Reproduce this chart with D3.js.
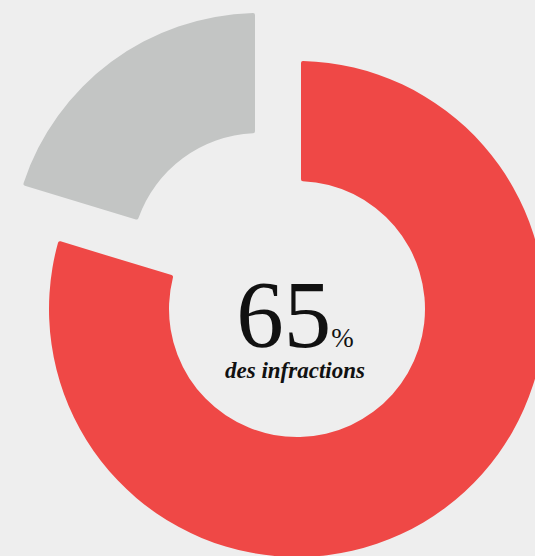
<!DOCTYPE html>
<html>
<head>
<meta charset="utf-8">
<script src="https://cdn.jsdelivr.net/npm/d3@7"></script>
<style>
  html, body { margin: 0; padding: 0; background: #eeeeee; }
  svg { display: block; }
</style>
</head>
<body>
<div id="chart"></div>
<script>
const labels = ["Infractions", "Autres"];
const values = [80, 20];
const colors = ["#ef4846", "#c3c5c4"];
const bigValue = "65";
const bigUnit = "%";
const caption = "des infractions";

const width = 535;
const height = 556;
const cx = 297;
const cy = 309;
const outerR = 248;
const innerR = 128;

// the grey slice is pulled out toward the upper left
const explode = [[0, 0], [-38, -48]];

const svg = d3.select("#chart")
  .append("svg")
    .attr("width", width)
    .attr("height", height)
    .attr("viewBox", [0, 0, width, height]);

const pie = d3.pie().sort(null).padAngle(8 / outerR).value(d => d)(values);

const arc = d3.arc()
  .innerRadius(innerR)
  .outerRadius(outerR)
  .padRadius(outerR)
  .cornerRadius(2);

svg.append("g")
  .selectAll("path")
  .data(pie)
  .join("path")
    .attr("transform", (d, i) => `translate(${cx + explode[i][0]},${cy + explode[i][1]})`)
    .attr("d", arc)
    .attr("fill", (d, i) => colors[i]);

const t = svg.append("text")
  .attr("x", cx - 2)
  .attr("y", cy + 38)
  .attr("text-anchor", "middle")
  .attr("font-family", "Liberation Serif, serif")
  .attr("fill", "#111");
t.append("tspan").attr("font-size", 95).text(bigValue);
t.append("tspan").attr("font-size", 27).text(bigUnit);

svg.append("text")
  .attr("x", cx - 2)
  .attr("y", cy + 69)
  .attr("text-anchor", "middle")
  .attr("font-family", "Liberation Serif, serif")
  .attr("font-style", "italic")
  .attr("font-weight", "bold")
  .attr("font-size", 23)
  .attr("fill", "#111")
  .text(caption);
</script>
</body>
</html>
